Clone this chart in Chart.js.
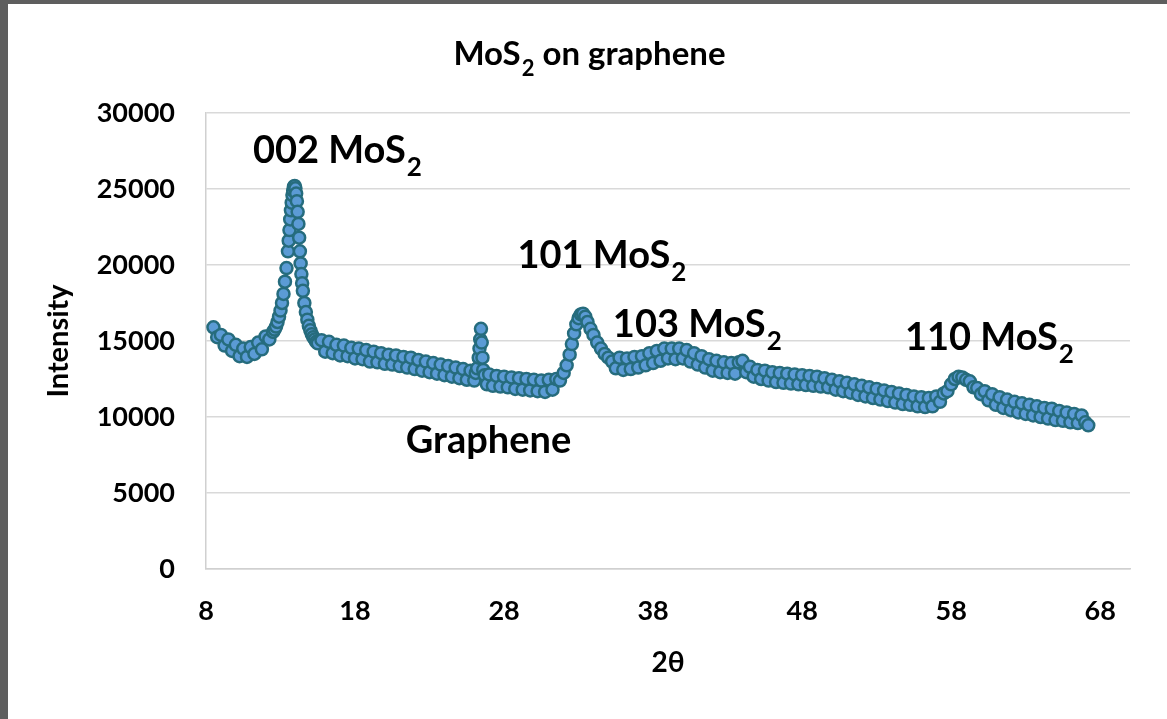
<!DOCTYPE html>
<html>
<head>
<meta charset="utf-8">
<title>MoS2 on graphene</title>
<script src="https://cdn.jsdelivr.net/npm/chart.js@4.4.1/dist/chart.umd.min.js"></script>
<style>
  html, body { margin: 0; padding: 0; background: #5e5e5e; }
  #panel { position: absolute; left: 8px; top: 4px; width: 1159px; height: 715px; background: #fff; }
</style>
</head>
<body>
<div id="panel"><canvas id="xrdChart" width="1159" height="715"></canvas></div>
<script>
// 2θ positions (degrees)
const twoTheta = [
    8.50, 8.75, 9.00, 9.25, 9.50, 9.75, 10.00, 10.25, 10.50, 10.75, 11.00, 11.25, 11.50, 11.75, 12.00, 12.25,
    12.50, 12.60, 12.70, 12.80, 12.90, 13.00, 13.10, 13.20, 13.30, 13.40, 13.50, 13.55, 13.60, 13.65, 13.70, 13.75,
    13.80, 13.85, 13.90, 13.95, 14.00, 14.05, 14.10, 14.15, 14.20, 14.25, 14.30, 14.35, 14.40, 14.45, 14.50, 14.60,
    14.70, 14.80, 14.90, 15.00, 15.10, 15.20, 15.30, 15.40, 15.50,
    15.75, 16.00, 16.25, 16.50, 16.75, 17.00, 17.25, 17.50, 17.75, 18.00, 18.25, 18.50, 18.75, 19.00, 19.25, 19.50,
    19.75, 20.00, 20.25, 20.50, 20.75, 21.00, 21.25, 21.50, 21.75, 22.00, 22.25, 22.50, 22.75, 23.00, 23.25, 23.50,
    23.75, 24.00, 24.25, 24.50, 24.75, 25.00, 25.25, 25.50, 25.75, 26.00, 26.10, 26.20, 26.30, 26.35, 26.40, 26.45,
    26.50, 26.55, 26.60, 26.70, 26.85, 27.00, 27.25, 27.50, 27.75, 28.00, 28.25, 28.50, 28.75, 29.00, 29.25, 29.50,
    29.75, 30.00, 30.25, 30.50, 30.75, 31.00, 31.25, 31.50, 31.75, 32.00, 32.20, 32.40, 32.55, 32.70, 32.85, 33.00,
    33.15, 33.30, 33.45, 33.60, 33.80, 34.00, 34.25, 34.50, 34.75, 35.00, 35.25, 35.50, 35.75, 36.00, 36.25, 36.50,
    36.75, 37.00, 37.25, 37.50, 37.75, 38.00, 38.25, 38.50, 38.75, 39.00, 39.25, 39.50, 39.75, 40.00, 40.25, 40.50,
    40.75, 41.00, 41.25, 41.50, 41.75, 42.00, 42.25, 42.50, 42.75, 43.00, 43.25, 43.50, 43.75, 44.00, 44.25, 44.50,
    44.75, 45.00, 45.25, 45.50, 45.75, 46.00, 46.25, 46.50, 46.75, 47.00, 47.25, 47.50, 47.75, 48.00, 48.25, 48.50,
    48.75, 49.00, 49.25, 49.50, 49.75, 50.00, 50.25, 50.50, 50.75, 51.00, 51.25, 51.50, 51.75, 52.00, 52.25, 52.50,
    52.75, 53.00, 53.25, 53.50, 53.75, 54.00, 54.25, 54.50, 54.75, 55.00, 55.25, 55.50, 55.75, 56.00, 56.25, 56.50,
    56.75, 57.00, 57.25, 57.50, 57.75, 58.00, 58.25, 58.50, 58.75, 59.00, 59.25, 59.50, 59.75, 60.00, 60.25, 60.50,
    60.75, 61.00, 61.25, 61.50, 61.75, 62.00, 62.25, 62.50, 62.75, 63.00, 63.25, 63.50, 63.75, 64.00, 64.25, 64.50,
    64.75, 65.00, 65.25, 65.50, 65.75, 66.00, 66.25, 66.50, 66.75, 67.00, 67.20
];

// intensity (counts) at each 2θ above, same row layout
const intensity = [
    15900, 15250, 15400, 14700, 15100, 14350, 14750, 14000, 14500, 13950, 14600, 14150, 14900, 14450, 15300, 15100,
    15600, 15750, 15950, 16250, 16600, 17000, 17500, 18100, 18900, 19800, 20900, 21600, 22300, 23000, 23600, 24100,
    24600, 24900, 25150, 25200, 25050, 24700, 24200, 23500, 22700, 21800, 20900, 20100, 19400, 18800, 18300, 17500,
    16900, 16400, 16000, 15700, 15450, 15250, 15100, 14950, 14850,
    15050, 14300, 14950, 14200, 14750, 14050, 14700, 14000, 14550, 13850, 14500, 13800, 14400, 13650, 14300, 13600,
    14200, 13500, 14100, 13450, 14050, 13350, 13950, 13250, 13900, 13150, 13750, 13050, 13650, 12950, 13550, 12850,
    13450, 12750, 13350, 12650, 13250, 12550, 13150, 12450, 13050, 12400, 12900, 13200, 13900, 14500, 15100, 15800,
    14900, 13900, 13100, 12750, 12150, 12800, 12050, 12700, 12000, 12650, 11950, 12600, 11850, 12550, 11800, 12500,
    11750, 12450, 11700, 12400, 11650, 12450, 11800, 12500, 12400, 12900, 13400, 14100, 14800, 15500, 16100, 16500,
    16750, 16800, 16600, 16250, 15800, 15400, 14900, 14500, 14150, 13900, 13650, 13200, 13900, 13100, 13850, 13150,
    13950, 13250, 14000, 13400, 14200, 13550, 14350, 13700, 14500, 13850, 14500, 13800, 14500, 13850, 14400, 13650,
    14200, 13450, 14000, 13250, 13800, 13050, 13700, 12950, 13600, 12900, 13550, 12850, 13600, 13700, 12950, 13300,
    12650, 13100, 12500, 13050, 12400, 12950, 12300, 12900, 12250, 12850, 12200, 12800, 12150, 12750, 12100, 12700,
    12050, 12650, 12000, 12550, 11950, 12450, 11800, 12350, 11700, 12250, 11600, 12150, 11450, 12050, 11350, 11950,
    11250, 11850, 11150, 11750, 11050, 11650, 10950, 11550, 10850, 11450, 10800, 11350, 10700, 11300, 10650, 11250,
    10700, 11350, 11000, 11550, 11700, 12150, 12500, 12650, 12600, 12450, 12350, 11950, 11900, 11500, 11700, 11100,
    11500, 10800, 11300, 10600, 11150, 10450, 11000, 10300, 10900, 10200, 10800, 10100, 10700, 10000, 10600, 9900,
    10550, 9800, 10400, 9750, 10300, 9650, 10200, 9600, 10100, 9650, 9450
];

const xTicks = [8, 18, 28, 38, 48, 58, 68];

const chartTitle = { main: 'MoS', sub: '2', rest: ' on graphene' };

// peak labels, anchored at (2θ, intensity) of the text baseline start
const peakNotes = [
    { main: '002 MoS', sub: '2', x: 11.15, y: 26700 },
    { main: '101 MoS', sub: '2', x: 28.9, y: 19800 },
    { main: '103 MoS', sub: '2', x: 35.3, y: 15250 },
    { main: '110 MoS', sub: '2', x: 54.9, y: 14400 },
    { main: 'Graphene', sub: '', x: 21.4, y: 7650 }
];

const FONT = 'Lato, "Open Sans", sans-serif';

// draws "main" + subscript + "rest" starting at x (or centred on x)
function drawWithSub(ctx, main, sub, rest, size, x, y, centred) {
    const big = `bold ${size}px ${FONT}`;
    const small = `bold ${Math.round(size * 0.68)}px ${FONT}`;
    ctx.font = big;
    const w1 = ctx.measureText(main).width;
    const w3 = rest ? ctx.measureText(rest).width : 0;
    ctx.font = small;
    const w2 = sub ? ctx.measureText(sub).width : 0;
    const left = centred ? x - (w1 + w2 + w3) / 2 : x;

    ctx.textAlign = 'left';
    ctx.textBaseline = 'alphabetic';
    ctx.font = big;
    ctx.fillText(main, left, y);
    if (sub) {
        ctx.font = small;
        ctx.fillText(sub, left + w1 + 1, y + size * 0.34);
    }
    if (rest) {
        ctx.font = big;
        ctx.fillText(rest, left + w1 + w2 + 1, y);
    }
}

const textPlugin = {
    id: 'xrdText',
    afterDraw(chart) {
        const { ctx, scales } = chart;
        ctx.save();
        ctx.fillStyle = '#000';
        drawWithSub(ctx, chartTitle.main, chartTitle.sub, chartTitle.rest, 33, 581, 61, true);
        peakNotes.forEach(n => {
            drawWithSub(ctx, n.main, n.sub, '', 38,
                scales.x.getPixelForValue(n.x), scales.y.getPixelForValue(n.y), false);
        });
        ctx.restore();
    }
};

const tickFont = { family: FONT, size: 27, weight: 'bold' };

new Chart(document.getElementById('xrdChart'), {
    type: 'scatter',
    data: {
        datasets: [{
            data: twoTheta.map((t, i) => ({ x: t, y: intensity[i] })),
            pointRadius: 6,
            pointHoverRadius: 6,
            pointBorderWidth: 2.5,
            backgroundColor: '#5b9bd5',
            borderColor: '#266c7d'
        }]
    },
    options: {
        responsive: false,
        animation: false,
        devicePixelRatio: 1,
        layout: { padding: { top: 109, right: 37, bottom: 0, left: 0 } },
        plugins: {
            legend: { display: false },
            tooltip: { enabled: false },
            title: { display: false }
        },
        scales: {
            x: {
                type: 'linear',
                min: 8,
                max: 70,
                afterBuildTicks: s => { s.ticks = xTicks.map(v => ({ value: v })); },
                afterFit: s => { s.height = 150; },
                grid: { display: false, drawTicks: false },
                border: { display: true, color: '#d0d0d0', width: 1.5 },
                ticks: { padding: 26, color: '#000', font: tickFont, maxRotation: 0, autoSkip: false },
                title: {
                    display: true, text: '2θ', color: '#000',
                    font: { family: FONT, size: 28, weight: 'bold' },
                    padding: { top: 0, bottom: 39 }
                }
            },
            y: {
                min: 0,
                max: 30000,
                afterFit: s => { s.width = 198; },
                grid: { color: '#d9d9d9', lineWidth: 1.5, drawTicks: false },
                border: { display: true, color: '#d0d0d0', width: 1.5 },
                ticks: { stepSize: 5000, padding: 31, color: '#000', font: tickFont, callback: v => String(v) },
                title: {
                    display: true, text: 'Intensity', color: '#000',
                    font: { family: FONT, size: 29, weight: 'bold' },
                    padding: { top: 33, bottom: 0 }
                }
            }
        }
    },
    plugins: [textPlugin]
});
</script>
</body>
</html>
